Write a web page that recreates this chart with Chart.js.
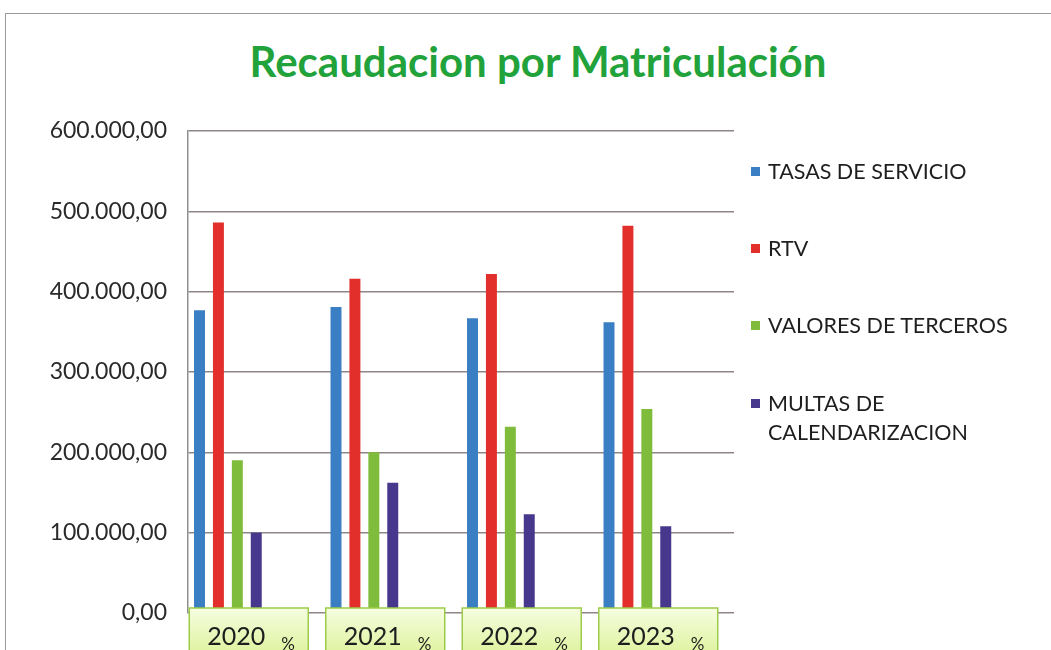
<!DOCTYPE html>
<html>
<head>
<meta charset="utf-8">
<script src="https://cdn.jsdelivr.net/npm/chart.js@4"></script>
<style>
  body { margin: 0; background: #fff; }
  #wrap { position: relative; width: 1051px; height: 650px; overflow: hidden; background: #fff; }
  #frame { position: absolute; left: 5px; top: 13px; width: 1100px; height: 700px; border: 1.5px solid #9a9a9a; }
  #title { position: absolute; left: 0; width: 1076px; top: 36px; text-align: center;
           font-family: Lato, sans-serif; font-weight: bold; font-size: 42px; color: #22a23a; }
  #legend { position: absolute; left: 751px; top: 157px; font-family: Lato, sans-serif; font-size: 21.5px; color: #1e1e1e; }
  .item { position: absolute; left: 0; width: 300px; line-height: 29px; }
  .box { position: absolute; left: 0; top: 10px; width: 9px; height: 9px; }
  .txt { position: absolute; left: 17px; top: 0; }
  canvas { position: absolute; left: 0; top: 0; }
</style>
</head>
<body>
<div id="wrap">
  <div id="frame"></div>
  <div id="title">Recaudacion por Matriculación</div>
  <canvas id="chart" width="1051" height="650"></canvas>
  <div id="legend"></div>
</div>
<script>
var years = ['2020', '2021', '2022', '2023'];
var tasas_servicio = [377000, 381000, 367000, 362000];
var rtv = [486000, 416000, 422000, 482000];
var valores_terceros = [190000, 200000, 232000, 254000];
var multas_calendarizacion = [100000, 162000, 123000, 108000];
var y_ticks = [0, 100000, 200000, 300000, 400000, 500000, 600000];

var series_names = ['TASAS DE SERVICIO', 'RTV', 'VALORES DE TERCEROS', ['MULTAS DE', 'CALENDARIZACION']];
var series_colors = ['#3a7fc3', '#e32f2c', '#80bc3b', '#47378d'];

function fmt(v) {
    var s = Math.round(v).toString();
    s = s.replace(/\B(?=(\d{3})+(?!\d))/g, '.');
    return s + ',00';
}

var datasets = [];
var all_values = [tasas_servicio, rtv, valores_terceros, multas_calendarizacion];
for (let i = 0; i < all_values.length; i++) {
    datasets.push({
        label: Array.isArray(series_names[i]) ? series_names[i].join(' ') : series_names[i],
        data: all_values[i],
        backgroundColor: series_colors[i]
    });
}
// empty slots (the % series of the original sheet, too small to be seen)
for (let i = 0; i < 3; i++) {
    datasets.push({ label: '%', data: [null, null, null, null], backgroundColor: 'rgba(0,0,0,0)' });
}

var yearBoxes = {
    id: 'yearBoxes',
    afterDatasetsDraw: function (chart) {
        var ctx = chart.ctx;
        var xs = chart.scales.x;
        var top = chart.chartArea.bottom - 5;
        for (let i = 0; i < years.length; i++) {
            var cx = xs.getPixelForValue(i) - 7;
            var left = cx - 60;
            var w = 119, h = 60;
            var g = ctx.createLinearGradient(0, top, 0, top + 45);
            g.addColorStop(0, '#f6fde0');
            g.addColorStop(1, '#dff3a0');
            ctx.save();
            ctx.fillStyle = g;
            ctx.fillRect(left, top, w, h);
            ctx.strokeStyle = '#9ccc4a';
            ctx.lineWidth = 1.5;
            ctx.strokeRect(left, top, w, h);
            ctx.fillStyle = '#1e1e1e';
            ctx.font = '25px Lato';
            ctx.textBaseline = 'alphabetic';
            ctx.fillText(years[i], left + 18, top + 37);
            ctx.font = '17px Lato';
            ctx.fillText('%', left + 92, top + 42);
            ctx.restore();
        }
    }
};

var ctx = document.getElementById('chart');
var myChart = new Chart(ctx, {
    type: 'bar',
    data: { labels: years, datasets: datasets },
    options: {
        responsive: false,
        animation: false,
        layout: { padding: { left: 0, top: 131, right: 317, bottom: 37 } },
        datasets: { bar: { categoryPercentage: 0.97, barPercentage: 0.58 } },
        plugins: {
            legend: { display: false },
            tooltip: { enabled: false }
        },
        scales: {
            x: {
                ticks: { display: false },
                grid: { display: false, drawTicks: false },
                border: { display: false },
                afterFit: function (s) { s.height = 0; }
            },
            y: {
                min: 0,
                max: 600000,
                afterBuildTicks: function (s) { s.ticks = y_ticks.map(v => ({ value: v })); },
                afterFit: function (s) { s.width = 188; },
                ticks: {
                    padding: 21,
                    color: '#2a2a2a',
                    font: { family: 'Lato', size: 23 },
                    callback: function (v) { return fmt(v); }
                },
                grid: { color: '#8f8585', lineWidth: 1.5, drawTicks: false },
                border: { display: true, color: '#8f8f8f', width: 1.5 }
            }
        }
    },
    plugins: [yearBoxes]
});

// legend built from the series
var leg = document.getElementById('legend');
var rows = [0, 77, 154, 232];
for (let i = 0; i < series_names.length; i++) {
    var it = document.createElement('div');
    it.className = 'item';
    it.style.top = rows[i] + 'px';
    var b = document.createElement('div');
    b.className = 'box';
    b.style.background = series_colors[i];
    var t = document.createElement('div');
    t.className = 'txt';
    t.innerHTML = Array.isArray(series_names[i]) ? series_names[i].join('<br>') : series_names[i];
    it.appendChild(b);
    it.appendChild(t);
    leg.appendChild(it);
}
</script>
</body>
</html>
